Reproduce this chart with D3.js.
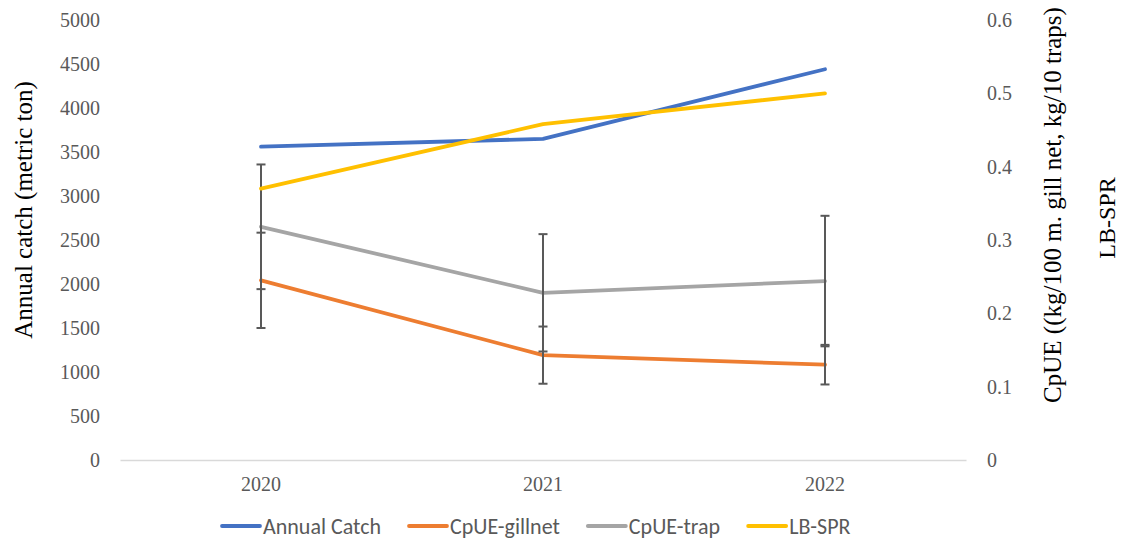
<!DOCTYPE html>
<html><head><meta charset="utf-8">
<script src="https://cdn.jsdelivr.net/npm/d3@7"></script>
<style>body{margin:0;background:#fff}svg{display:block}</style>
</head><body>
<svg id="c" width="1121" height="541"></svg>
<script>
const years = ["2020", "2021", "2022"];
const annualCatch = [3560, 3650, 4440];
const cpueGillnet = [0.245, 0.143, 0.130];
const cpueGillnetErr = [0.065, 0.039, 0.027];
const cpueTrap = [0.318, 0.228, 0.244];
const cpueTrapErr = [0.085, 0.080, 0.089];
const lbSpr = [0.370, 0.458, 0.500];
const leftTicks = [0, 500, 1000, 1500, 2000, 2500, 3000, 3500, 4000, 4500, 5000];
const rightTicks = [0, 0.1, 0.2, 0.3, 0.4, 0.5, 0.6];
const seriesNames = ["Annual Catch", "CpUE-gillnet", "CpUE-trap", "LB-SPR"];
const colors = ["#4472C4", "#ED7D31", "#A5A5A5", "#FFC000"];

(function () {
const svg = d3.select("#c");
const pL = 120, pR = 966, pT = 20, pB = 460;
const x = d3.scaleBand().domain(years).range([pL, pR]);
const xc = d => x(d) + x.bandwidth() / 2;
const yL = d3.scaleLinear().domain([0, 5000]).range([pB, pT]);
const yR = d3.scaleLinear().domain([0, 0.6]).range([pB, pT]);

const tickFont = "'Liberation Serif', 'Times New Roman', serif";
const gl = svg.append("g").attr("transform", `translate(${pL},0)`)
  .call(d3.axisLeft(yL).tickValues(leftTicks).tickSize(0).tickPadding(20).tickFormat(d3.format("d")));
gl.select(".domain").remove();
gl.selectAll("text").attr("font-family", tickFont).attr("font-size", 20).attr("fill", "#595959");
const gr = svg.append("g").attr("transform", `translate(${pR},0)`)
  .call(d3.axisRight(yR).tickValues(rightTicks).tickSize(0).tickPadding(21).tickFormat(d => d === 0 ? "0" : d3.format(".1f")(d)));
gr.select(".domain").remove();
gr.selectAll("text").attr("font-family", tickFont).attr("font-size", 20).attr("fill", "#595959");
const gb = svg.append("g").attr("transform", `translate(0,${pB})`)
  .call(d3.axisBottom(x).tickSize(0).tickPadding(17));
gb.select(".domain").attr("stroke", "#D9D9D9").attr("stroke-width", 1.5);
gb.selectAll("text").attr("font-family", tickFont).attr("font-size", 20).attr("fill", "#595959");

svg.append("text").attr("transform", `translate(32,210) rotate(-90)`).attr("text-anchor", "middle")
  .attr("font-family", tickFont).attr("font-size", 25).attr("fill", "#000").text("Annual catch (metric ton)");
svg.append("text").attr("transform", `translate(1061,205) rotate(-90)`).attr("text-anchor", "middle")
  .attr("font-family", tickFont).attr("font-size", 25).attr("fill", "#000").text("CpUE ((kg/100 m. gill net, kg/10 traps)");
svg.append("text").attr("transform", `translate(1115,218) rotate(-90)`).attr("text-anchor", "middle")
  .attr("font-family", tickFont).attr("font-size", 24).attr("fill", "#000").text("LB-SPR");

const line = (ys) => d3.line().x((d, i) => xc(years[i])).y(d => ys(d));
function drawLine(vals, ys, color) {
  svg.append("path").datum(vals).attr("d", line(ys)).attr("fill", "none")
    .attr("stroke", color).attr("stroke-width", 3.8).attr("stroke-linecap", "round").attr("stroke-linejoin", "round");
}
function drawErr(vals, errs) {
  const g = svg.append("g").attr("stroke", "#595959").attr("stroke-width", 2);
  vals.forEach((v, i) => {
    const cx = xc(years[i]);
    const y1 = yR(v + errs[i]), y2 = yR(v - errs[i]);
    g.append("line").attr("x1", cx).attr("x2", cx).attr("y1", y1).attr("y2", y2);
    [y1, y2].forEach(yy => g.append("line").attr("x1", cx - 4.5).attr("x2", cx + 4.5).attr("y1", yy).attr("y2", yy));
  });
}
drawLine(annualCatch, yL, colors[0]);
drawLine(cpueGillnet, yR, colors[1]);
drawErr(cpueGillnet, cpueGillnetErr);
drawLine(cpueTrap, yR, colors[2]);
drawErr(cpueTrap, cpueTrapErr);
drawLine(lbSpr, yR, colors[3]);

const legFont = "Carlito, 'Open Sans', 'Liberation Sans', sans-serif";
const lg = svg.append("g").attr("transform", "translate(0,526)");
let lx = 222;
seriesNames.forEach((n, i) => {
  lg.append("line").attr("x1", lx).attr("x2", lx + 38).attr("y1", 0).attr("y2", 0)
    .attr("stroke", colors[i]).attr("stroke-width", 3.8).attr("stroke-linecap", "round");
  const t = lg.append("text").attr("x", lx + 41).attr("y", 0).attr("dy", "0.35em")
    .attr("font-family", legFont).attr("font-size", 22).attr("fill", "#595959").text(n);
  lx += 41 + t.node().getComputedTextLength() + 28;
});
})();
</script>
</body></html>
